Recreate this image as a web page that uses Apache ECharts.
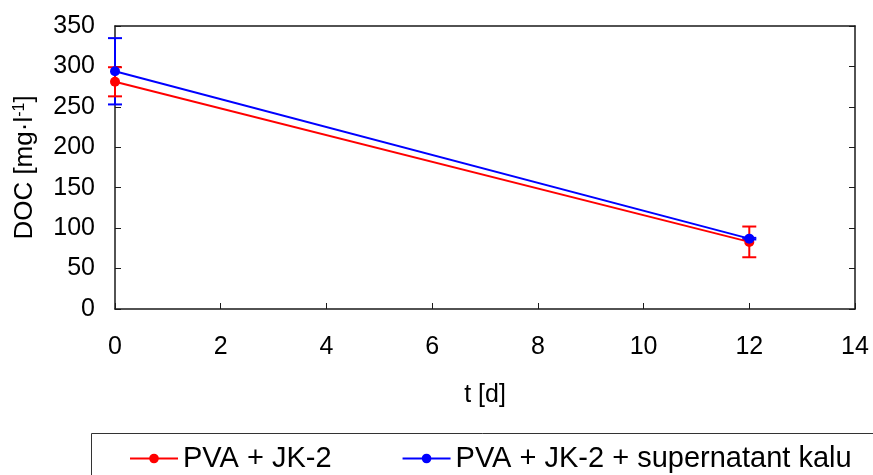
<!DOCTYPE html>
<html>
<head>
<meta charset="utf-8">
<script src="https://cdn.jsdelivr.net/npm/echarts@6/dist/echarts.min.js"></script>
<style>
  html, body { margin: 0; padding: 0; background: #fff; }
  #chart { width: 873px; height: 475px; }
</style>
</head>
<body>
<div id="chart"></div>
<script>
// Sampling times [d]
const tDays = [0, 12];
// DOC [mg/l] for PVA + JK-2
const docJK2 = [281, 83];
const errJK2 = [18, 19];
// DOC [mg/l] for PVA + JK-2 + supernatant kalu
const docSup = [294, 87];
const errSup = [41, 1];
// Axis ticks
const xTicks = [0, 2, 4, 6, 8, 10, 12, 14];
const yTicks = [0, 50, 100, 150, 200, 250, 300, 350];

const nameJK2 = 'PVA + JK-2';
const nameSup = 'PVA + JK-2 + supernatant kalu';
const RED = '#ff0000';
const BLUE = '#0000ff';
const FONT = 'Liberation Sans';
const AXIS = '#1a1a1a';

function errorRows(xs, ys, es) {
  return xs.map((x, i) => [x, ys[i] - es[i], ys[i] + es[i]]);
}

function errorBarSeries(rows, color, z) {
  return {
    type: 'custom',
    z: z,
    silent: true,
    data: rows,
    renderItem: function (params, api) {
      const lo = api.coord([api.value(0), api.value(1)]);
      const hi = api.coord([api.value(0), api.value(2)]);
      const half = 7;
      const style = { stroke: color, lineWidth: 2 };
      return {
        type: 'group',
        children: [
          { type: 'line', shape: { x1: lo[0], y1: lo[1], x2: hi[0], y2: hi[1] }, style: style },
          { type: 'line', shape: { x1: lo[0] - half, y1: lo[1], x2: lo[0] + half, y2: lo[1] }, style: style },
          { type: 'line', shape: { x1: hi[0] - half, y1: hi[1], x2: hi[0] + half, y2: hi[1] }, style: style }
        ]
      };
    }
  };
}

function lineSeries(name, ys, color, z) {
  return {
    name: name,
    type: 'line',
    z: z,
    data: tDays.map((x, i) => [x, ys[i]]),
    symbol: 'circle',
    symbolSize: 10,
    showSymbol: true,
    itemStyle: { color: color },
    lineStyle: { color: color, width: 2 },
    emphasis: { disabled: true }
  };
}

const xMin = xTicks[0], xMax = xTicks[xTicks.length - 1];
const yMin = yTicks[0], yMax = yTicks[yTicks.length - 1];
const xStep = xTicks[1] - xTicks[0];
const yStep = yTicks[1] - yTicks[0];

const labelStyle = { color: '#000', fontFamily: FONT, fontSize: 25 };

const chart = echarts.init(document.getElementById('chart'), null, { renderer: 'canvas' });
chart.setOption({
  animation: false,
  backgroundColor: '#fff',
  textStyle: { fontFamily: FONT },
  grid: { left: 115, right: 18, top: 26, bottom: 166, containLabel: false },
  xAxis: [
    {
      type: 'value', position: 'bottom',
      min: xMin, max: xMax, interval: xStep,
      name: 't [d]', nameLocation: 'middle', nameGap: 74,
      nameTextStyle: { color: '#000', fontFamily: FONT, fontSize: 25 },
      axisLine: { show: true, lineStyle: { color: AXIS, width: 1.5 } },
      axisTick: { show: true, inside: true, length: 6, lineStyle: { color: AXIS, width: 1 } },
      axisLabel: Object.assign({ margin: 26 }, labelStyle),
      splitLine: { show: false }
    },
    {
      type: 'value', position: 'top',
      min: xMin, max: xMax, interval: xStep,
      axisLine: { show: true, onZero: false, lineStyle: { color: AXIS, width: 1.5 } },
      axisTick: { show: false },
      axisLabel: { show: false },
      splitLine: { show: false }
    }
  ],
  yAxis: [
    {
      type: 'value', position: 'left',
      min: yMin, max: yMax, interval: yStep,
      name: 'DOC [mg·l{sup|-1}]', nameLocation: 'middle', nameGap: 77,
      nameTextStyle: {
        color: '#000', fontFamily: FONT, fontSize: 26,
        rich: { sup: { fontSize: 16, fontFamily: FONT, color: '#000', verticalAlign: 'top', padding: [0, 0, 6, 0] } }
      },
      axisLine: { show: true, lineStyle: { color: AXIS, width: 1.5 } },
      axisTick: { show: true, inside: true, length: 6, lineStyle: { color: AXIS, width: 1 } },
      axisLabel: Object.assign({ margin: 20 }, labelStyle),
      splitLine: { show: false }
    },
    {
      type: 'value', position: 'right',
      min: yMin, max: yMax, interval: yStep,
      axisLine: { show: true, onZero: false, lineStyle: { color: AXIS, width: 1.5 } },
      axisTick: { show: true, inside: true, length: 6, lineStyle: { color: AXIS, width: 1 } },
      axisLabel: { show: false },
      splitLine: { show: false }
    }
  ],
  legend: {
    left: 124, top: 439,
    itemWidth: 48, itemHeight: 12, itemGap: 70,
    textStyle: { color: '#000', fontFamily: FONT, fontSize: 29 },
    data: [nameJK2, nameSup]
  },
  graphic: [
    {
      type: 'rect', silent: true, z: 0,
      shape: { x: 91.5, y: 433.5, width: 800, height: 80 },
      style: { fill: 'none', stroke: '#333', lineWidth: 1 }
    }
  ],
  series: [
    errorBarSeries(errorRows(tDays, docSup, errSup), BLUE, 2),
    errorBarSeries(errorRows(tDays, docJK2, errJK2), RED, 3),
    lineSeries(nameJK2, docJK2, RED, 4),
    lineSeries(nameSup, docSup, BLUE, 5)
  ]
});
</script>
</body>
</html>
